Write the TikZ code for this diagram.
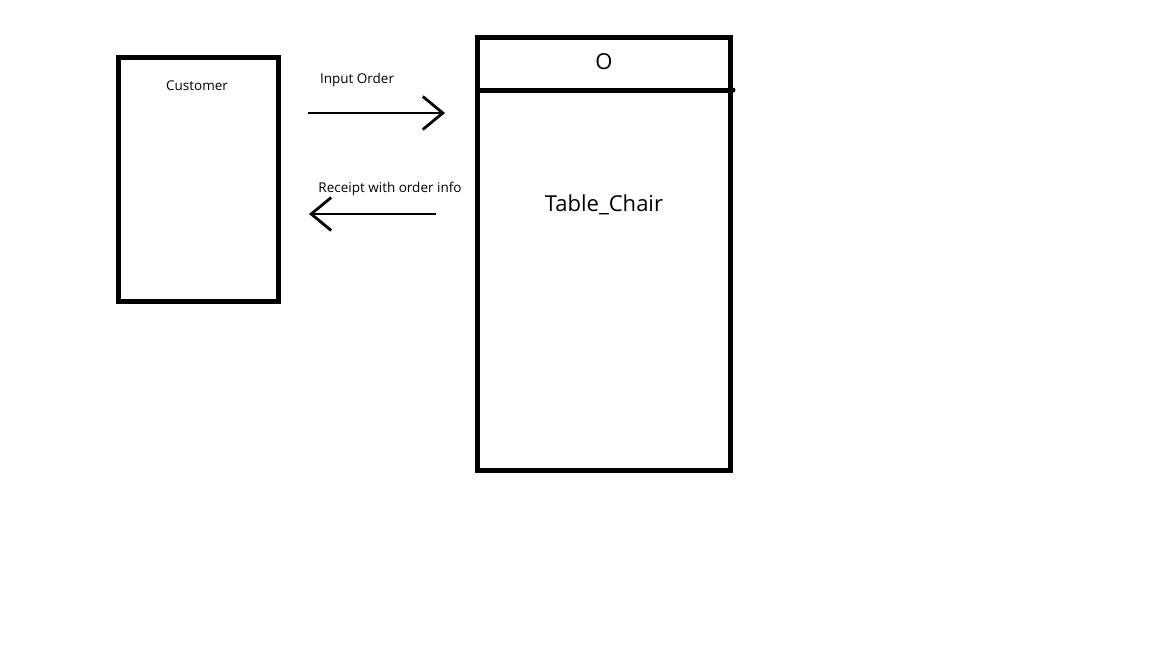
\documentclass[tikz,border=0pt]{standalone}
\usepackage{fontspec}
\setmainfont{Open Sans}
\usetikzlibrary{arrows.meta}

\tikzset{
  box/.style={draw,line width=5pt,inner sep=0pt},
  flow/.style={line width=2.8pt,-{Straight Barb[length=20pt,width=33pt,line width=2.8pt]}},
  small/.style={font=\fontsize{13.5}{16}\selectfont,inner sep=0pt},
  big/.style={font=\fontsize{22}{26}\selectfont,inner sep=0pt}
}

\begin{document}
\begin{tikzpicture}[x=1pt,y=-1pt]
  \useasboundingbox[fill=white] (0,0) rectangle (1152,648);
  % boxes
  \node[box,minimum width=160pt,minimum height=244pt] (cust) at (198,179) {};
  \node[box,minimum width=253pt,minimum height=433pt] (tbl) at (603.5,253.5) {};
  \draw[line width=5pt] (tbl.west |- 0,90) coordinate (divL) -- (733,90) coordinate (divR);
  \fill (divR) circle (2.5pt);
  % labels
  \node[small] (custlbl) at (197,86) {Customer};
  \node[big] (objlbl) at (604,62) {O};
  \node[big] (tbllbl) at (604,205) {Table\_Chair};
  \node[small] (inlbl) at (357,80) {Input Order};
  \node[small] (outlbl) at (390,189) {Receipt with order info};
  % arrows
  \coordinate (inA) at (308,113);
  \coordinate (inB) at (445,113);
  \coordinate (outA) at (436,214);
  \coordinate (outB) at (309,214);
  \draw[flow] (inA) -- (inB);
  \draw[flow] (outA) -- (outB);
\end{tikzpicture}
\end{document}
